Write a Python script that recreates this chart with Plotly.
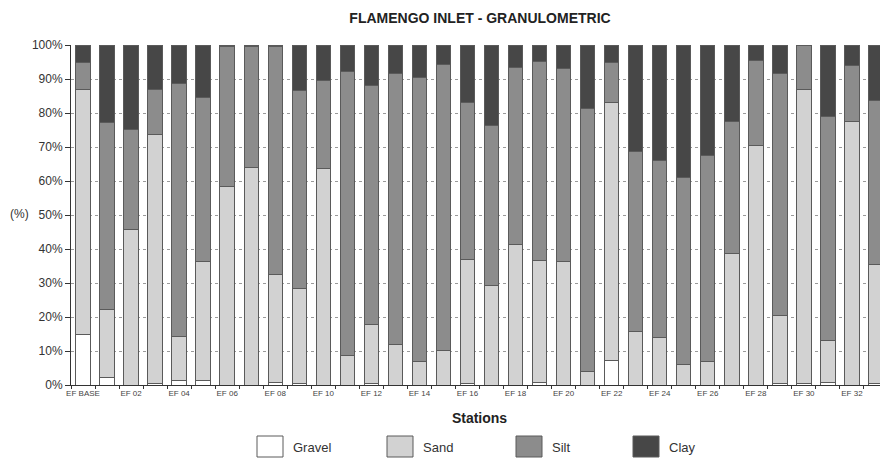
import plotly.graph_objects as go

stations = ["EF BASE"] + [f"EF {i:02d}" for i in range(1, 34)]
tick_labels = [s if i % 2 == 0 else "" for i, s in enumerate(stations)]
gravel = [15, 2.3, 0, 0.3, 1.4, 1.2, 0, 0, 0.6, 0.3, 0, 0, 0.3, 0, 0, 0, 0.5,
          0, 0, 0.7, 0, 0, 7.3, 0, 0, 0, 0, 0, 0, 0.3, 0.3, 0.8, 0, 0.5]
sand = [72, 20, 45.6, 73.5, 12.8, 35, 58.3, 63.9, 31.8, 28.2, 63.6, 8.7, 17.4, 11.8, 7, 10.1, 36.3,
        29.3, 41.4, 35.8, 36.2, 4.1, 75.8, 15.7, 14, 6, 7, 38.7, 70.4, 20.1, 86.5, 12.4, 77.4, 34.8]
silt = [8, 54.8, 29.6, 13.2, 74.5, 48.3, 41.4, 35.8, 67.3, 58.1, 26, 83.4, 70.3, 79.9, 83.3, 84.2, 46.2,
        47, 51.9, 58.6, 56.8, 77.2, 11.8, 53.1, 51.9, 55.1, 60.4, 38.9, 24.9, 71.1, 13, 65.9, 16.5, 48.5]
clay = [round(100 - g - s - t, 1) for g, s, t in zip(gravel, sand, silt)]

series = [("Gravel", gravel, "#ffffff"), ("Sand", sand, "#d2d2d2"),
          ("Silt", silt, "#8c8c8c"), ("Clay", clay, "#474747")]
outline = "#5a5a5a"

fig = go.Figure()
for name, vals, col in series:
    fig.add_trace(go.Bar(x=stations, y=vals, name=name, showlegend=False,
                         marker=dict(color=col, line=dict(color=outline, width=1)), width=0.6))

# page has an 8px body margin: figure sized and positioned to compensate
OFF = 8
W, H = 888 - OFF, 459 - OFF
L, R, T, B = 71 - OFF, 888 - OFF, 45 - OFF, 385 - OFF
def px(x):
    return (x - OFF - L) / (R - L)
def py(y):
    return (B - (y - OFF)) / (B - T)

fig.update_layout(
    barmode="stack",
    width=W, height=H,
    margin=dict(l=L, r=W - R, t=T, b=H - B, autoexpand=False),
    paper_bgcolor="white", plot_bgcolor="white",
    font=dict(family="Liberation Sans, Arial, sans-serif", color="#333333", size=12),
    title=dict(text="<b>FLAMENGO INLET - GRANULOMETRIC</b>", x=(480 - OFF) / W, xref="container", xanchor="center",
               y=1 - (18 - OFF) / H, yref="container", yanchor="middle", font=dict(size=14, color="#222222")),
    showlegend=False,
)
fig.update_xaxes(
    type="category", categoryorder="array", categoryarray=stations,
    tickmode="array", tickvals=stations, ticktext=tick_labels, tickangle=0,
    tickson="boundaries", ticks="outside", ticklen=3, tickcolor="#333",
    tickfont=dict(size=8, color="#444"), automargin=False,
    showline=True, linecolor="#333", linewidth=1,
    title=dict(text="<b>Stations</b>", font=dict(size=14, color="#222"), standoff=16),
    range=[-0.5, 33.5],
)
fig.update_yaxes(
    range=[0, 100], dtick=10, ticksuffix="%", ticks="outside", ticklen=5, tickcolor="#333",
    showgrid=True, gridcolor="#9a9a9a", griddash="dot", gridwidth=1, automargin=False,
    showline=True, linecolor="#333", linewidth=1,
    tickfont=dict(size=12, color="#333"),
)
fig.add_annotation(text="(%)", xref="paper", yref="paper", x=px(19), y=py(214), xanchor="center", yanchor="middle",
                   showarrow=False, font=dict(size=12, color="#333"))

# custom legend
box_left = [257, 387, 516, 633]
for (name, vals, col), bx in zip(series, box_left):
    fig.add_shape(type="rect", xref="paper", yref="paper", x0=px(bx), x1=px(bx + 26), y0=py(457), y1=py(436),
                  fillcolor=col, line=dict(color=outline, width=1))
    fig.add_annotation(text=name, xref="paper", yref="paper", x=px(bx + 34), y=py(447), xanchor="left",
                       yanchor="middle", showarrow=False, font=dict(size=13, color="#333"))

fig.write_html("out.html")
